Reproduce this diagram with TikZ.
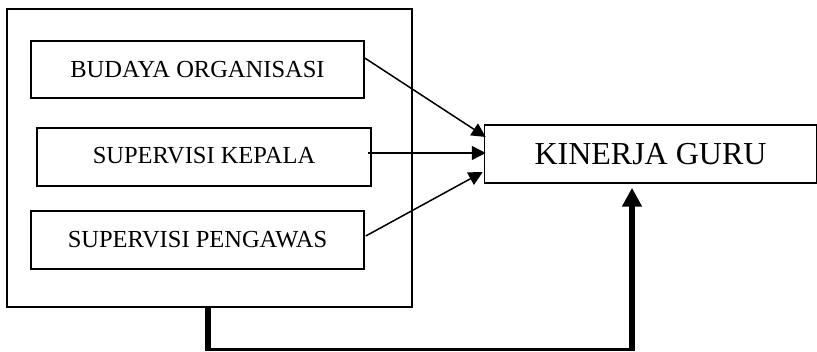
\documentclass[tikz,border=0pt]{standalone}
\usepackage{fontspec}
\setmainfont{Liberation Serif}
\usetikzlibrary{arrows.meta,calc}
\begin{document}
\begin{tikzpicture}[x=1pt,y=-1pt,
  box/.style={draw,line width=1.5pt,rectangle,inner sep=0pt,font=\fontsize{24.5}{28}\selectfont},
  thinarrow/.style={line width=1.5pt,-{Triangle[length=14pt,width=14pt]}},
  thickline/.style={line width=6.5pt},
  thinline/.style={line width=2.5pt}]
\useasboundingbox (0,0) rectangle (817,352);
\node[box,minimum width=405pt,minimum height=298pt] (outer) at (209.5,158) {};
\node[box,minimum width=333pt,minimum height=57pt] (bud) at (197.5,69.5) {BUDAYA ORGANISASI};
\node[box,minimum width=334pt,minimum height=58pt] (kep) at (204,157) {\raisebox{4pt}{SUPERVISI KEPALA}};
\node[box,minimum width=333pt,minimum height=58pt] (pen) at (197.5,240) {SUPERVISI PENGAWAS};
\node[box,minimum width=332pt,minimum height=58pt,font=\fontsize{32}{36}\selectfont] (kin) at (650.5,154) {KINERJA GURU};
\draw[thinarrow] ([yshift=11.5pt]bud.east) -- ([xshift=2pt,yshift=17pt]kin.west);
\draw[thinarrow] ([xshift=-4pt,yshift=4pt]kep.east) -- ([xshift=2pt,yshift=1pt]kin.west);
\draw[thinarrow] ([xshift=1pt,yshift=4pt]pen.east) -- ([xshift=-1pt,yshift=-18pt]kin.west);
\coordinate (c1) at ([xshift=-1.5pt,yshift=-42pt]outer.south);
\coordinate (c2) at ([xshift=-18.5pt]kin.south |- c1);
\draw[thickline] ([xshift=-1.5pt]outer.south) -- ([yshift=-1pt]c1);
\draw[thinline] ([xshift=-3pt]c1) -- ([xshift=3pt]c2);
\draw[thickline,-{Triangle[length=19pt,width=19pt]}] ([yshift=-1pt]c2) -- ([xshift=-18.5pt,yshift=-4pt]kin.south);
\end{tikzpicture}
\end{document}
